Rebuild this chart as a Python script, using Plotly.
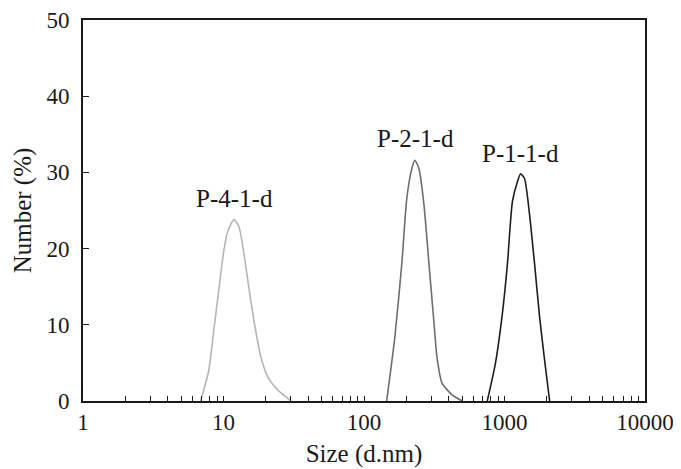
import plotly.graph_objects as go
import math

# P-4-1-d
size_p4 = [6.88, 7.85, 8.52, 9.25, 10.05, 10.74, 11.85, 12.87, 13.98, 15.17, 16.48, 18.49, 20.75, 24.5, 30.3]
num_p4 = [0.0, 4.0, 9.2, 14.5, 19.7, 22.3, 23.8, 22.9, 19.3, 14.8, 10.5, 5.7, 3.1, 1.4, 0.0]

# P-2-1-d
size_p2 = [145, 165.6, 185.8, 201.7, 219, 230, 246, 267, 290, 315, 331, 360, 424, 500]
num_p2 = [0.0, 8.3, 18.0, 26.6, 30.5, 31.6, 30.5, 25.8, 18.0, 10.2, 5.7, 2.3, 0.8, 0.0]

# P-1-1-d
size_p1 = [754, 861, 966, 1049, 1139, 1237, 1300, 1388, 1507, 1637, 1778, 1931, 2096]
num_p1 = [0.0, 4.9, 11.5, 18.0, 26.2, 28.8, 29.8, 29.2, 24.5, 18.0, 11.0, 5.3, 0.0]

labels = ["P-4-1-d", "P-2-1-d", "P-1-1-d"]
label_x = [11.9, 232, 1310]
label_y = [26.6, 34.4, 32.5]

y_tickvals = [0, 10, 20, 30, 40, 50]

font = "Liberation Serif"
ink = "#1a1a1a"

fig = go.Figure()
for xs, ys, col in [(size_p4, num_p4, "#b5b5b5"), (size_p2, num_p2, "#6e6e6e"), (size_p1, num_p1, "#1e1e1e")]:
    fig.add_trace(go.Scatter(x=xs, y=ys, mode="lines", line=dict(color=col, width=1.6, shape="spline", smoothing=0.6),
                             showlegend=False, hoverinfo="skip"))

for t, x, y in zip(labels, label_x, label_y):
    fig.add_annotation(x=math.log10(x), y=y, text=t, showarrow=False, xref="x", yref="y",
                       font=dict(family=font, size=25, color=ink))

# page body has an 8px margin, so the figure is drawn 8px smaller and offset
fig.update_layout(
    width=673, height=461,
    margin=dict(l=75, r=36, t=12, b=68),
    paper_bgcolor="white", plot_bgcolor="white",
    font=dict(family=font, size=23, color=ink),
    xaxis=dict(type="log", range=[0, 4], dtick=1, tickformat="d", automargin=False,
               ticks="inside", ticklen=5, tickcolor=ink, ticklabelstandoff=0, ticklabeloverflow="allow",
               showline=True, linecolor=ink, linewidth=1.6,
               mirror=True, showgrid=False, zeroline=False,
               minor=dict(dtick="D1", ticks="inside", ticklen=5, tickcolor=ink, showgrid=False),
               title=dict(text="Size (d.nm)", font=dict(family=font, size=25), standoff=10)),
    yaxis=dict(range=[0, 50], tickvals=y_tickvals, ticks="inside", ticklen=6, tickcolor=ink, automargin=False,
               ticklabelstandoff=7, ticklabeloverflow="allow",
               showline=True, linecolor=ink, linewidth=1.6, mirror=True, showgrid=False, zeroline=False,
               title=dict(text="Number (%)", font=dict(family=font, size=25), standoff=8)),
)

fig.write_html("out.html")
